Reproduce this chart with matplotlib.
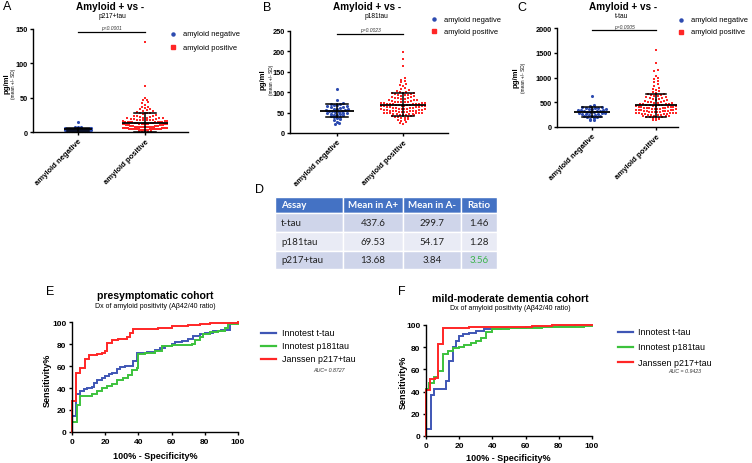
import numpy as np
import matplotlib
matplotlib.use('Agg')
import matplotlib.pyplot as plt
from matplotlib.lines import Line2D
from matplotlib.patches import Rectangle

plt.rcParams['font.family'] = ['Liberation Sans', 'DejaVu Sans']

# ---------------- data ----------------
categories = ['amyloid negative', 'amyloid positive']

# panel A: p217+tau (pg/ml)
a_neg = [15, 8, 7.5, 7, 6.5, 6, 5.5, 5, 5, 4.8, 4.5, 4.3, 4, 4, 3.8, 3.6, 3.5, 3.4, 3.2, 3,
         3, 2.9, 2.8, 2.7, 2.6, 2.5, 2.4, 2.3, 2.2, 2.1, 2, 2, 1.9, 1.8, 1.7, 1.6, 1.5, 1.4, 1.2, 1]
a_pos = [131, 67, 49, 47, 46, 44, 42, 40, 37, 36, 35, 34, 33, 32, 31, 30, 29, 28, 27, 27, 26, 25,
         24, 24, 23, 22, 22, 21, 21, 20, 20, 20, 19, 19, 19, 18, 18, 18, 17, 17, 17, 16, 16, 16,
         15, 15, 15, 15, 14, 14, 14, 14, 13, 13, 13, 13, 12, 12, 12, 12, 12, 11, 11, 11, 11, 11,
         10, 10, 10, 10, 10, 10, 9, 9, 9, 9, 9, 9, 8, 8, 8, 8, 8, 8, 8, 7, 7, 7, 7, 7, 7, 7,
         6, 6, 6, 6, 6, 6, 6, 6, 5, 5, 5, 5, 5, 5, 5, 5, 4, 4, 4, 4, 4, 4, 4, 3, 3, 3, 3, 3, 3,
         2, 2, 2, 2, 1]
# panel B: p181tau
b_neg = [107, 80, 74, 72, 70, 69, 68, 66, 65, 64, 63, 62, 60, 59, 58, 57, 56, 55, 54, 53, 52, 51,
         50, 49, 48, 47, 46, 45, 44, 43, 41, 40, 38, 36, 34, 31, 28, 25, 23]
b_pos = [198, 181, 163, 135, 131, 128, 124, 120, 117, 114, 111, 108, 105, 103, 101, 100, 99, 98,
         97, 96, 95, 94, 93, 92, 91, 90, 89, 88, 87, 86, 85, 84, 83, 82, 81, 80, 79, 78, 77, 77,
         76, 75, 75, 74, 74, 73, 73, 72, 72, 71, 71, 70, 70, 69, 69, 68, 68, 67, 67, 66, 66, 65,
         65, 64, 64, 63, 63, 62, 62, 61, 61, 60, 60, 59, 59, 58, 58, 57, 57, 56, 56, 55, 55, 54,
         54, 53, 53, 52, 52, 51, 51, 50, 50, 49, 49, 48, 48, 47, 47, 46, 46, 45, 45, 44, 43, 42,
         41, 40, 39, 38, 37, 36, 35, 33, 31, 29, 27, 25, 22]
# panel C: t-tau
c_neg = [630, 445, 425, 410, 400, 392, 385, 378, 370, 362, 355, 348, 340, 335, 328, 320, 315, 308,
         300, 295, 290, 284, 278, 270, 262, 255, 248, 240, 232, 225, 215, 205, 195, 185, 170, 150, 135]
c_pos = [1560, 1300, 1160, 1140, 1040, 1000, 960, 930, 900, 860, 820, 790, 770, 750, 730, 710, 690,
         670, 660, 650, 640, 630, 620, 610, 600, 590, 580, 570, 560, 550, 540, 530, 520, 510, 505,
         500, 490, 485, 480, 470, 465, 460, 455, 450, 445, 440, 435, 430, 425, 420, 415, 410, 405,
         400, 400, 395, 390, 385, 380, 380, 375, 370, 365, 360, 360, 355, 350, 345, 340, 340, 335,
         330, 325, 320, 320, 315, 310, 305, 300, 300, 295, 290, 285, 280, 280, 275, 270, 265, 260,
         255, 250, 245, 240, 235, 230, 225, 220, 215, 210, 200, 195, 190, 180, 170, 160, 150, 140]

# table D
assays = ['t-tau', 'p181tau', 'p217+tau']
mean_pos = [437.6, 69.53, 13.68]
mean_neg = [299.7, 54.17, 3.84]
ratio = [1.46, 1.28, 3.56]
table_header = ['Assay', 'Mean in A+', 'Mean in A-', 'Ratio']

# SD (neg, pos)
sd_a = [2.0, 14.5]
sd_b = [16, 29]
sd_c = [95, 230]
pvals = ['p<0.0001', 'p=0.0023', 'p=0.0005']

# ROC curves (corner points, 100%-specificity vs sensitivity)
e_ttau_x = [0, 0, 2.5, 5, 7, 9, 12, 13, 15, 18, 20, 22, 24, 27, 29, 32, 37, 39, 45, 50, 53, 56, 60,
            62, 66, 70, 73, 77, 80, 85, 90, 95, 100]
e_ttau_y = [0, 15, 35, 37, 39, 40, 41, 45, 47, 49, 51, 53, 54, 57, 59, 60, 65, 72, 73, 75, 76, 78,
            80, 82, 83, 85, 87, 89, 90, 92, 93, 99, 100]
e_p181_x = [0, 0, 3, 5, 12, 15, 18, 21, 24, 27, 31, 34, 36, 39, 40, 44, 50, 54, 60, 72, 74, 77, 79,
            83, 88, 92, 94, 100]
e_p181_y = [0, 9, 25, 33, 35, 37, 40, 42, 44, 47, 49, 52, 56, 58, 71, 72, 74, 78, 79, 80, 84, 86,
            89, 91, 92, 95, 98, 100]
e_p217_x = [0, 0, 2.6, 5, 7.6, 10, 15, 18, 20, 21, 24, 28, 33, 35, 37, 52, 60, 70, 77, 83, 100]
e_p217_y = [0, 28, 54, 58, 66, 70, 71, 72, 74, 81, 84, 85, 86, 90, 94, 95, 96, 97, 98, 99, 100]

f_ttau_x = [0, 0, 3, 5, 12, 14, 16, 18, 20, 22, 26, 30, 35, 45, 60, 80, 90, 100]
f_ttau_y = [0, 6, 37, 42, 50, 68, 80, 86, 90, 92, 93, 95, 96, 97, 98, 99, 100, 100]
f_p181_x = [0, 0, 2, 5, 7, 10, 13, 16, 20, 23, 27, 30, 33, 36, 40, 50, 70, 95, 100]
f_p181_y = [0, 42, 48, 53, 59, 74, 77, 79, 80, 82, 84, 86, 88, 94, 96, 97, 98, 99, 99]
f_p217_x = [0, 0, 2.4, 5.4, 7.4, 10.4, 26, 64, 76, 100]
f_p217_y = [0, 41, 51, 52, 83, 97, 98, 99, 100, 100]

roc_labels = ['Innotest t-tau', 'Innotest p181tau', 'Janssen p217+tau']
auc_text = ['AUC= 0.8727', 'AUC = 0.9423']

# ---------------- style ----------------
BLUE = '#2d4bb0'
RED = '#ff2626'
GREEN = '#3cc23c'
LBLUE = '#3f56b5'

W, H = 752, 464
fig = plt.figure(figsize=(W / 100, H / 100), dpi=100)


def px_axes(l, t, r, b):
    return fig.add_axes([l / W, 1 - b / H, (r - l) / W, (b - t) / H])


def ftxt(x, y, s, **kw):
    return fig.text(x / W, 1 - y / H, s, **kw)


def row_swarm(vals, ppu_y, ppu_x, d=3.2, limit=20.0):
    """GraphPad-like column scatter: points binned in rows, spread horizontally."""
    vals = np.asarray(vals, float)
    rows = np.round(vals * ppu_y / d).astype(int)
    offs = np.zeros(len(vals))
    for r in np.unique(rows):
        idx = np.where(rows == r)[0]
        idx = idx[np.argsort(vals[idx])]
        n = len(idx)
        if n == 1:
            continue
        step = min(d, 2 * limit / (n - 1))
        pos = (np.arange(n) - (n - 1) / 2) * step
        order = np.argsort(np.abs(pos), kind='stable')
        offs[idx] = pos[order]
    return offs / ppu_x


def style_axes(ax):
    for s in ['top', 'right']:
        ax.spines[s].set_visible(False)
    for s in ['left', 'bottom']:
        ax.spines[s].set_linewidth(1.0)
    ax.tick_params(width=1.0, length=2.5, pad=1.5)


scatter_panels = [
    dict(letter='A', sub='p217+tau', neg=a_neg, pos=a_pos, ti=2, sd=sd_a, ymax=150, ystep=50,
         rect=(33, 30, 188, 133), cats=(78, 145), p=pvals[0], lim=(13, 22),
         letter_xy=(3, 7), title_x=110, sub_x=112, leg=(173, 35, 48), ylab=(7, 13, 84)),
    dict(letter='B', sub='p181tau', neg=b_neg, pos=b_pos, ti=1, sd=sd_b, ymax=250, ystep=50,
         rect=(290, 32, 448, 134), cats=(337, 403), p=pvals[1], lim=(16, 22),
         letter_xy=(263, 8), title_x=367, sub_x=376, leg=(434, 20, 32), ylab=(263, 271, 80)),
    dict(letter='C', sub='t-tau', neg=c_neg, pos=c_pos, ti=0, sd=sd_c, ymax=2000, ystep=500,
         rect=(557, 29, 678, 128), cats=(592, 656), p=pvals[2], lim=(17, 20),
         letter_xy=(517, 8), title_x=623, sub_x=622, leg=(681, 21, 33), ylab=(516, 524, 78)),
]

for P in scatter_panels:
    l, t, r, b = P['rect']
    c0, c1 = P['cats']
    sp = c1 - c0
    ax = px_axes(l, t, r, b)
    ax.set_xlim(-(c0 - l) / sp, 1 + (r - c1) / sp)
    ax.set_ylim(0, P['ymax'])
    ppu_y = (b - t) / P['ymax']
    for gi, (vals, col, mk) in enumerate([(P['neg'], BLUE, 'o'), (P['pos'], RED, 's')]):
        offs = row_swarm(vals, ppu_y, sp, d=3.2, limit=P['lim'][gi])
        ax.scatter(gi + offs, vals, s=5.0 if mk == 'o' else 4.2, marker=mk, c=col,
                   linewidths=0, clip_on=False, zorder=2)
    means = [mean_neg[P['ti']], mean_pos[P['ti']]]
    for gi in range(2):
        m, s = means[gi], P['sd'][gi]
        lo = max(m - s, 0)
        hw = P['lim'][gi] / sp + 0.02
        ax.plot([gi - hw, gi + hw], [m, m], color='black', lw=1.3, zorder=3, solid_capstyle='butt')
        ax.plot([gi, gi], [lo, m + s], color='black', lw=1.1, zorder=3)
        ax.plot([gi - 0.16, gi + 0.16], [m + s, m + s], color='black', lw=1.1, zorder=3)
        ax.plot([gi - 0.16, gi + 0.16], [lo, lo], color='black', lw=1.1, zorder=3)
    ysig = 0.975 * P['ymax']
    ax.plot([0, 1], [ysig, ysig], color='black', lw=0.9, clip_on=False)
    ax.text(0.5, ysig + 0.012 * P['ymax'], P['p'], ha='center', va='bottom', fontsize=3.6,
            style='italic', color='#333333')
    ax.set_yticks(np.arange(0, P['ymax'] + 1, P['ystep']))
    ax.set_xticks([0, 1])
    ax.set_xticklabels(categories, rotation=45, ha='right', rotation_mode='anchor',
                       fontsize=5.5, fontweight='bold')
    for lab in ax.get_yticklabels():
        lab.set_fontsize(5.3)
        lab.set_fontweight('bold')
    style_axes(ax)
    ftxt(P['letter_xy'][0], P['letter_xy'][1], P['letter'], fontsize=9, ha='left', va='center')
    ftxt(P['title_x'], 7, 'Amyloid + vs -', fontsize=7.2, fontweight='bold', ha='center', va='center')
    ftxt(P['sub_x'], 16, P['sub'], fontsize=4.8, ha='center', va='center')
    ftxt(P['ylab'][0], P['ylab'][2], 'pg/ml', fontsize=5.6, fontweight='bold', rotation=90,
         ha='center', va='center')
    ftxt(P['ylab'][1], P['ylab'][2], '(mean +/- SD)', fontsize=3.4, rotation=90,
         ha='center', va='center')
    lx, ly1, ly2 = P['leg']
    fig.add_artist(Line2D([lx / W], [1 - ly1 / H], marker='o', ms=2.2, color=BLUE, lw=0,
                          transform=fig.transFigure))
    fig.add_artist(Line2D([lx / W], [1 - ly2 / H], marker='s', ms=2.2, color=RED, lw=0,
                          transform=fig.transFigure))
    ftxt(lx + 10, ly1, 'amyloid negative', fontsize=5.4, ha='left', va='center')
    ftxt(lx + 10, ly2, 'amyloid positive', fontsize=5.4, ha='left', va='center')

# ---------------- table D ----------------
ftxt(255, 190, 'D', fontsize=9, ha='left', va='center')
tx0, ty0, tx1, ty1 = 275, 198, 497, 270
tax = px_axes(tx0, ty0, tx1, ty1)
tax.set_xlim(0, tx1 - tx0)
tax.set_ylim(ty1 - ty0, 0)
tax.axis('off')
col_w = [68, 60, 58, 36]
row_h = [16, 19, 19, 18]
row_colors = ['#4472c4', '#cfd5ea', '#e9ebf5', '#cfd5ea']
rows = [table_header] + [[assays[i], str(mean_pos[i]), str(mean_neg[i]), '%.2f' % ratio[i]]
                         for i in range(len(assays))]
yy = 0
for ri, row in enumerate(rows):
    xx = 0
    for ci, cell in enumerate(row):
        tax.add_patch(Rectangle((xx, yy), col_w[ci], row_h[ri], facecolor=row_colors[ri],
                                edgecolor='white', lw=1.0))
        color = 'white' if ri == 0 else '#222222'
        if ri == 3 and ci == 3:
            color = '#3cb44b'
        if ci == 0:
            tax.text(xx + 6, yy + row_h[ri] / 2, cell, ha='left', va='center', fontsize=7,
                     color=color, family='Lato', fontweight='bold' if ri == 0 else 'normal')
        else:
            tax.text(xx + col_w[ci] / 2, yy + row_h[ri] / 2, cell, ha='center', va='center',
                     fontsize=7, color=color, family='Lato',
                     fontweight='bold' if ri == 0 else 'normal')
        xx += col_w[ci]
    yy += row_h[ri]

# ---------------- ROC panels ----------------
roc_panels = [
    dict(letter='E', title='presymptomatic cohort', rect=(72, 323, 238, 433),
         curves=[(e_ttau_x, e_ttau_y), (e_p181_x, e_p181_y), (e_p217_x, e_p217_y)],
         letter_xy=(46, 292), title_xy=(155, 296), sub_y=307, leg=(261, 276, 282, (334, 347, 360)),
         auc=(329, 371, auc_text[0]), ylab=(47, 380), xlab=(155, 457)),
    dict(letter='F', title='mild-moderate dementia cohort', rect=(426, 326, 592, 437),
         curves=[(f_ttau_x, f_ttau_y), (f_p181_x, f_p181_y), (f_p217_x, f_p217_y)],
         letter_xy=(398, 292), title_xy=(510, 299), sub_y=309, leg=(618, 633, 638, (333, 348, 363)),
         auc=(685, 372, auc_text[1]), ylab=(403, 382), xlab=(508, 459)),
]
roc_colors = [LBLUE, GREEN, RED]

for P in roc_panels:
    ax = px_axes(*P['rect'])
    ax.set_xlim(0, 100)
    ax.set_ylim(0, 100)
    for (xs, ys), col in zip(P['curves'], roc_colors):
        ax.plot(xs, ys, drawstyle='steps-post', color=col, lw=1.4, clip_on=False,
                solid_joinstyle='miter')
    ax.set_xticks(np.arange(0, 101, 20))
    ax.set_yticks(np.arange(0, 101, 20))
    for lab in ax.get_xticklabels() + ax.get_yticklabels():
        lab.set_fontsize(6)
        lab.set_fontweight('bold')
    style_axes(ax)
    ftxt(P['letter_xy'][0], P['letter_xy'][1], P['letter'], fontsize=9, ha='left', va='center')
    ftxt(P['title_xy'][0], P['title_xy'][1], P['title'], fontsize=7.6, fontweight='bold',
         ha='center', va='center')
    ftxt(P['title_xy'][0], P['sub_y'], 'Dx of amyloid positivity (A\u03b242/40 ratio)',
         fontsize=5, ha='center', va='center')
    ftxt(P['ylab'][0], P['ylab'][1], 'Sensitivity%', fontsize=6.5, fontweight='bold',
         rotation=90, ha='center', va='center')
    ftxt(P['xlab'][0], P['xlab'][1], '100% - Specificity%', fontsize=6.5, fontweight='bold',
         ha='center', va='center')
    lx0, lx1, tx, ys = P['leg']
    for yv, col, lab in zip(ys, roc_colors, roc_labels):
        fig.add_artist(Line2D([lx0 / W, lx1 / W], [1 - yv / H, 1 - yv / H], color=col, lw=1.6,
                              transform=fig.transFigure))
        ftxt(tx, yv, lab, fontsize=6.4, ha='left', va='center')
    ftxt(P['auc'][0], P['auc'][1], P['auc'][2], fontsize=3.8, style='italic', ha='center',
         va='center', color='#333333')

fig.savefig('out.png', dpi=100)
